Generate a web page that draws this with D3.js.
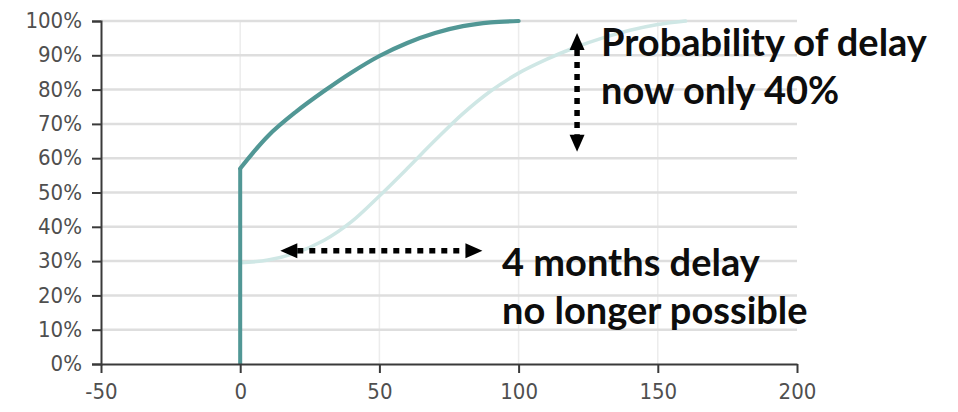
<!DOCTYPE html>
<html>
<head>
<meta charset="utf-8">
<script src="https://cdn.jsdelivr.net/npm/d3@7"></script>
<style>
  html, body { margin: 0; padding: 0; background: #fff; }
  svg { display: block; }
</style>
</head>
<body>
<svg id="chart" width="958" height="412"></svg>
<script>
// Delay (days) on x, cumulative probability (%) on y
const xTicks = [-50, 0, 50, 100, 150, 200];
const yTicks = [0, 10, 20, 30, 40, 50, 60, 70, 80, 90, 100];

// Earlier forecast (faded)
const beforeX = [0, 0, 10, 20, 30, 40, 50, 60, 70, 80, 90, 100, 110, 120, 130, 140, 150, 160];
const beforeY = [0, 29.5, 30.3, 32.4, 36, 41.5, 49, 57, 65.2, 73, 79.6, 84.8, 88.8, 92.2, 95, 97.3, 99, 100];

// Current forecast: jump at 0, then smooth rise to 100%
const jumpX = [0, 0];
const jumpY = [0, 57];
const nowX = [0, 10, 20, 30, 40, 50, 60, 70, 80, 90, 100];
const nowY = [57, 66.5, 73.5, 79.5, 85, 89.8, 93.6, 96.5, 98.5, 99.6, 100];

// Annotation callouts
const noteDelay = ["Probability of delay", "now only 40%"];
const noteMonths = ["4 months delay", "no longer possible"];

const svg = d3.select("#chart");
const x = d3.scaleLinear().domain([-50, 200]).range([101, 797]);
const y = d3.scaleLinear().domain([0, 100]).range([364, 21]);

const zip = (xs, ys) => xs.map((v, i) => [v, ys[i]]);
const straight = d3.line().x(d => x(d[0])).y(d => y(d[1]));
const smooth = d3.line().x(d => x(d[0])).y(d => y(d[1])).curve(d3.curveCatmullRom.alpha(0.5));

// Grid
svg.append("g").selectAll("line").data(xTicks.filter(t => t > -50 && t < 200)).join("line")
  .attr("x1", d => x(d)).attr("x2", d => x(d))
  .attr("y1", y(100)).attr("y2", y(0))
  .attr("stroke", "#ececec").attr("stroke-width", 1.5);
svg.append("g").selectAll("line").data(yTicks.filter(t => t > 0)).join("line")
  .attr("x1", x(-50)).attr("x2", x(200))
  .attr("y1", d => y(d)).attr("y2", d => y(d))
  .attr("stroke", "#dedede").attr("stroke-width", 2.5);

// Faded earlier curve
const before = zip(beforeX, beforeY);
svg.append("path")
  .attr("d", straight(before.slice(0, 2)))
  .attr("fill", "none").attr("stroke", "#cfe7e5").attr("stroke-width", 3.5);
svg.append("path")
  .attr("d", smooth(before.slice(1)))
  .attr("fill", "none").attr("stroke", "#cfe7e5").attr("stroke-width", 3.5)
  .attr("stroke-linecap", "round");

// Current curve
svg.append("path")
  .attr("d", straight(zip(jumpX, jumpY)))
  .attr("fill", "none").attr("stroke", "#519795").attr("stroke-width", 4);
svg.append("path")
  .attr("d", smooth(zip(nowX, nowY)))
  .attr("fill", "none").attr("stroke", "#519795").attr("stroke-width", 4.2)
  .attr("stroke-linecap", "round").attr("stroke-linejoin", "round");

// Axes
const axisFont = "'DejaVu Sans Condensed', 'DejaVu Sans', sans-serif";
const yAxis = svg.append("g").attr("transform", `translate(${x(-50)},0)`)
  .call(d3.axisLeft(y).tickValues(yTicks).tickSize(9).tickPadding(10).tickFormat(d => d + "%"));
const xAxis = svg.append("g").attr("transform", `translate(0,${y(0)})`)
  .call(d3.axisBottom(x).tickValues(xTicks).tickSize(9).tickPadding(10).tickSizeOuter(0)
    .tickFormat(d => String(d)));
[yAxis, xAxis].forEach(g => {
  g.select(".domain").attr("stroke", "#3a3a3a").attr("stroke-width", 2);
  g.selectAll(".tick line").attr("stroke", "#3a3a3a").attr("stroke-width", 2);
  g.selectAll(".tick text").attr("fill", "#4f4f4f")
    .style("font-family", axisFont).style("font-size", "22px");
});
yAxis.selectAll(".tick text").attr("dy", "0.3em");
xAxis.selectAll(".tick text").attr("dy", "0.72em");

// Dotted double-headed arrows
function arrow(x1, y1, x2, y2) {
  const g = svg.append("g");
  const dx = x2 - x1, dy = y2 - y1, len = Math.hypot(dx, dy);
  const ux = dx / len, uy = dy / len, head = 17, half = 7.5;
  g.append("line")
    .attr("x1", x1 + ux * head).attr("y1", y1 + uy * head)
    .attr("x2", x2 - ux * head).attr("y2", y2 - uy * head)
    .attr("stroke", "#000").attr("stroke-width", 5.5)
    .attr("stroke-dasharray", "6 6");
  [[x1, y1, 1], [x2, y2, -1]].forEach(([px, py, s]) => {
    const bx = px + s * ux * head, by = py + s * uy * head;
    g.append("path")
      .attr("d", `M${px},${py}L${bx - uy * half},${by + ux * half}L${bx + uy * half},${by - ux * half}Z`)
      .attr("fill", "#000");
  });
}
arrow(x(14.4), y(33), x(87), y(33));
arrow(x(121), y(96.5), x(121), y(61.9));

// Callout text
const noteFont = "Lato, 'Open Sans', sans-serif";
function note(lines, left, base) {
  svg.append("text")
    .attr("x", left).attr("y", base)
    .style("font-family", noteFont).style("font-weight", 700)
    .style("font-size", "38px").attr("fill", "#0d0d0d")
    .selectAll("tspan").data(lines).join("tspan")
    .attr("x", left).attr("dy", (d, i) => i ? 48 : 0)
    .text(d => d);
}
note(noteDelay, 601, 56);
note(noteMonths, 502, 276);
</script>
</body>
</html>
